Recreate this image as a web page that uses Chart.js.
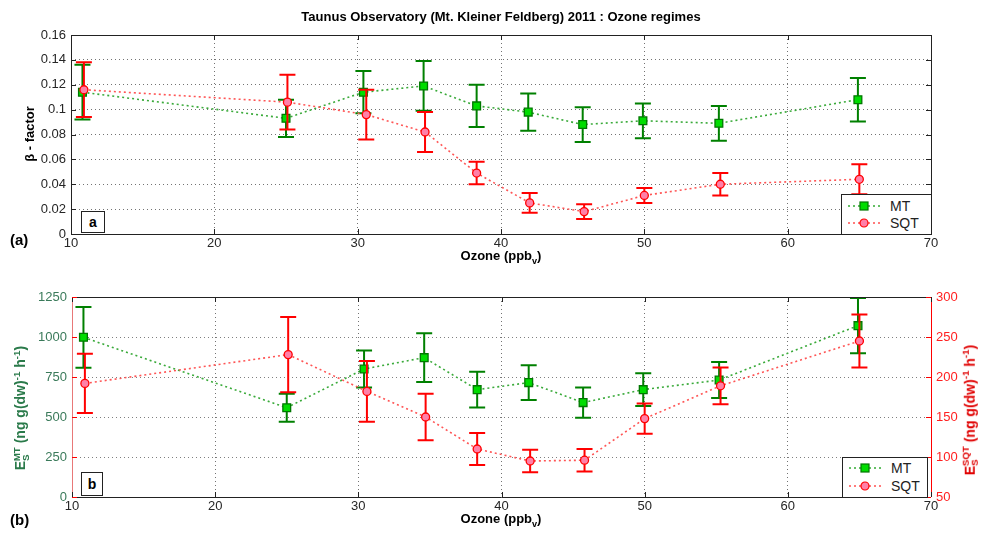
<!DOCTYPE html>
<html lang="en">
<head>
  <meta charset="UTF-8">
  <title>Taunus Observatory 2011 : Ozone regimes</title>
  <script src="https://cdn.jsdelivr.net/npm/chart.js"></script>
  <style>
    body { margin: 0; background: #fff; font-family: "Liberation Sans", Arial, sans-serif; }
    #wrap { position: relative; width: 984px; height: 534px; overflow: hidden; }
    canvas { position: absolute; left: 0; }
    .lbl { position: absolute; white-space: nowrap; color: #000; }
    .bold { font-weight: bold; }
    .rot { transform: translate(-50%, -50%) rotate(-90deg); }
    .legend { position: absolute; background: #fff; border: 1px solid #222; font-size: 14px; color: #222; }
    .legend .row { position: absolute; left: 6px; height: 14px; display: flex; align-items: center; }
    .legend .row span { margin-left: 8px; }
    .tag { position: absolute; border: 1px solid #222; background: #fff; font: bold 14px "Liberation Sans", Arial, sans-serif; text-align: center; }
    sub, sup { font-size: 70%; }
  </style>
</head>
<body>
<div id="wrap">
  <canvas id="betaChart" width="984" height="260" style="top:0"></canvas>
  <canvas id="esChart" width="984" height="274" style="top:260px"></canvas>

  <div class="lbl bold" style="left:71px;width:860px;top:9px;text-align:center;font-size:13px">Taunus Observatory (Mt. Kleiner Feldberg) 2011 : Ozone regimes</div>

  <div class="lbl bold" style="left:71px;width:860px;top:248px;text-align:center;font-size:13px">Ozone (ppb<sub>v</sub>)</div>
  <div class="lbl bold" style="left:71px;width:860px;top:511px;text-align:center;font-size:13px">Ozone (ppb<sub>v</sub>)</div>

  <div class="lbl bold" style="left:10px;top:231px;font-size:15px">(a)</div>
  <div class="lbl bold" style="left:10px;top:511px;font-size:15px">(b)</div>

  <div class="lbl bold rot" style="left:29px;top:134px;font-size:13px">&beta; - factor</div>
  <div class="lbl bold rot" style="left:21px;top:408px;font-size:14px;color:#2a7a4a">E<sub>S</sub><sup style="margin-left:-7px">MT</sup> (ng g(dw)<sup>-1</sup> h<sup>-1</sup>)</div>
  <div class="lbl bold rot" style="left:970px;top:410px;font-size:14px;color:#e00000">E<sub>S</sub><sup style="margin-left:-7px">SQT</sup> (ng g(dw)<sup>-1</sup> h<sup>-1</sup>)</div>

  <div class="tag" style="left:81px;top:211px;width:22px;height:20px;line-height:20px">a</div>
  <div class="tag" style="left:81px;top:472px;width:20px;height:22px;line-height:22px">b</div>

  <div class="legend" style="left:841px;top:194px;width:89px;height:39px">
    <div class="row" style="top:4px"><svg width="34" height="12"><line x1="0" y1="6" x2="34" y2="6" stroke="#33aa33" stroke-width="1.5" stroke-dasharray="2,3"/><rect x="12" y="2" width="8" height="8" fill="#00dd00" stroke="#007700" stroke-width="1.2"/></svg><span>MT</span></div>
    <div class="row" style="top:21px"><svg width="34" height="12"><line x1="0" y1="6" x2="34" y2="6" stroke="#ff5050" stroke-width="1.5" stroke-dasharray="2,3"/><circle cx="16" cy="6" r="4" fill="#ff80a8" stroke="#ff0000" stroke-width="1.2"/></svg><span>SQT</span></div>
  </div>
  <div class="legend" style="left:842px;top:457px;width:84px;height:39px">
    <div class="row" style="top:3px"><svg width="34" height="12"><line x1="0" y1="6" x2="34" y2="6" stroke="#33aa33" stroke-width="1.5" stroke-dasharray="2,3"/><rect x="12" y="2" width="8" height="8" fill="#00dd00" stroke="#007700" stroke-width="1.2"/></svg><span>MT</span></div>
    <div class="row" style="top:21px"><svg width="34" height="12"><line x1="0" y1="6" x2="34" y2="6" stroke="#ff5050" stroke-width="1.5" stroke-dasharray="2,3"/><circle cx="16" cy="6" r="4" fill="#ff80a8" stroke="#ff0000" stroke-width="1.2"/></svg><span>SQT</span></div>
  </div>
</div>

<script>
// ozone mixing ratio (ppbv) of each regime
const ozoneMT = [10.8, 25.0, 30.4, 34.6, 38.3, 41.9, 45.7, 49.9, 55.2, 64.9];
const ozoneSQT = [10.9, 25.1, 30.6, 34.7, 38.3, 42.0, 45.8, 50.0, 55.3, 65.0];

// (a) beta factor
const betaMT = [0.114, 0.093, 0.114, 0.119, 0.103, 0.098, 0.088, 0.091, 0.089, 0.108];
const betaMTErr = [0.022, 0.015, 0.017, 0.020, 0.017, 0.015, 0.014, 0.014, 0.014, 0.0175];
const betaSQT = [0.116, 0.106, 0.096, 0.082, 0.049, 0.025, 0.018, 0.031, 0.040, 0.044];
const betaSQTErr = [0.022, 0.022, 0.020, 0.016, 0.009, 0.008, 0.006, 0.006, 0.009, 0.012];

// (b) standard emission factors
const esMT = [998, 558, 800, 871, 671, 715, 590, 671, 731, 1071];
const esMTErr = [190, 87, 115, 152, 112, 108, 95, 102, 113, 172];
const esSQT = [192, 228, 182, 150, 110, 95, 96, 148, 189, 245];
const esSQTErr = [37, 47, 38, 29, 20, 14, 14, 19, 23, 33];

// tick values
const ozoneTicks = [10, 20, 30, 40, 50, 60, 70];
const betaTicks = [0, 0.02, 0.04, 0.06, 0.08, 0.1, 0.12, 0.14, 0.16];
const esMTTicks = [0, 250, 500, 750, 1000, 1250];
const esSQTTicks = [50, 100, 150, 200, 250, 300];

const GREEN_BAR = '#008000';
const RED_BAR = '#ff0000';

function toPoints(xs, ys) {
  return xs.map((x, i) => ({ x: x, y: ys[i] }));
}

// vertical error bars with caps, drawn just before each dataset
const errorBars = {
  id: 'errorBars',
  beforeDatasetDraw(chart, args) {
    const ds = chart.data.datasets[args.index];
    if (!ds.errors) return;
    const xs = chart.scales[args.meta.xAxisID];
    const ys = chart.scales[args.meta.yAxisID];
    const ctx = chart.ctx;
    ctx.save();
    ctx.strokeStyle = ds.errorColor;
    ctx.lineWidth = 2;
    ds.data.forEach((p, i) => {
      const x = xs.getPixelForValue(p.x);
      const top = ys.getPixelForValue(p.y + ds.errors[i]);
      const bot = ys.getPixelForValue(p.y - ds.errors[i]);
      ctx.beginPath();
      ctx.moveTo(x, top); ctx.lineTo(x, bot);
      ctx.moveTo(x - 8, top); ctx.lineTo(x + 8, top);
      ctx.moveTo(x - 8, bot); ctx.lineTo(x + 8, bot);
      ctx.stroke();
    });
    ctx.restore();
  }
};

// matlab style box with inward ticks
const axesBox = {
  id: 'axesBox',
  afterDraw(chart) {
    const a = chart.chartArea;
    const ctx = chart.ctx;
    const o = chart.options.plugins.axesBox;
    ctx.save();
    ctx.lineWidth = 1;
    const side = (color, x1, y1, x2, y2) => {
      ctx.strokeStyle = color;
      ctx.beginPath(); ctx.moveTo(x1, y1); ctx.lineTo(x2, y2); ctx.stroke();
    };
    side('#222', a.left, a.top + 0.5, a.right, a.top + 0.5);
    side('#222', a.left, a.bottom + 0.5, a.right, a.bottom + 0.5);
    side(o.leftColor, a.left + 0.5, a.top, a.left + 0.5, a.bottom);
    side(o.rightColor, a.right + 0.5, a.top, a.right + 0.5, a.bottom);

    const xs = chart.scales.x;
    ctx.strokeStyle = '#222';
    ozoneTicks.forEach(v => {
      const x = Math.round(xs.getPixelForValue(v)) + 0.5;
      ctx.beginPath();
      ctx.moveTo(x, a.bottom); ctx.lineTo(x, a.bottom - 5);
      ctx.moveTo(x, a.top); ctx.lineTo(x, a.top + 5);
      ctx.stroke();
    });
    o.yTicks.forEach(t => {
      const sc = chart.scales[t.axis];
      ctx.strokeStyle = t.color;
      t.values.forEach(v => {
        const y = Math.round(sc.getPixelForValue(v)) + 0.5;
        ctx.beginPath();
        if (t.left) { ctx.moveTo(a.left, y); ctx.lineTo(a.left + 5, y); }
        if (t.right) { ctx.moveTo(a.right, y); ctx.lineTo(a.right - 5, y); }
        ctx.stroke();
      });
    });
    ctx.restore();
  }
};

const tickFont = { family: '"Liberation Sans", Arial, sans-serif', size: 13 };

function ozoneAxis() {
  return {
    type: 'linear', min: 10, max: 70,
    afterBuildTicks: s => { s.ticks = ozoneTicks.map(v => ({ value: v })); },
    ticks: { font: tickFont, color: '#262626', padding: 2, maxRotation: 0, callback: v => String(v) },
    grid: { color: 'rgba(0,0,0,0.55)', drawTicks: false, tickLength: 0 },
    border: { display: false, dash: [1, 3] }
  };
}

function mtDataset(xs, ys, errs, axis) {
  return {
    label: 'MT', data: toPoints(xs, ys), errors: errs, errorColor: GREEN_BAR,
    yAxisID: axis, order: 2,
    borderColor: '#3aaa3a', borderWidth: 1.6, borderDash: [2, 3],
    pointStyle: 'rect', pointRadius: 5.5, pointBackgroundColor: '#00dd00',
    pointBorderColor: '#007700', pointBorderWidth: 1.3, tension: 0
  };
}

function sqtDataset(xs, ys, errs, axis) {
  return {
    label: 'SQT', data: toPoints(xs, ys), errors: errs, errorColor: RED_BAR,
    yAxisID: axis, order: 1,
    borderColor: '#ff5555', borderWidth: 1.6, borderDash: [2, 3],
    pointStyle: 'circle', pointRadius: 4, pointBackgroundColor: '#ff80a8',
    pointBorderColor: '#ff0000', pointBorderWidth: 1.3, tension: 0
  };
}

new Chart(document.getElementById('betaChart'), {
  type: 'line',
  data: {
    datasets: [
      mtDataset(ozoneMT, betaMT, betaMTErr, 'y'),
      sqtDataset(ozoneSQT, betaSQT, betaSQTErr, 'y')
    ]
  },
  options: {
    responsive: false, animation: false, devicePixelRatio: 1,
    layout: { padding: { top: 35, right: 53, bottom: 0, left: 0 } },
    plugins: {
      legend: { display: false }, tooltip: { enabled: false },
      axesBox: { leftColor: '#222', rightColor: '#222',
        yTicks: [{ axis: 'y', values: betaTicks, color: '#222', left: true, right: true }] }
    },
    scales: {
      x: Object.assign(ozoneAxis(), { afterFit: s => { s.height = 26; } }),
      y: {
        type: 'linear', min: 0, max: 0.16,
        afterBuildTicks: s => { s.ticks = betaTicks.map(v => ({ value: v })); },
        afterFit: s => { s.width = 71; },
        ticks: { font: tickFont, color: '#262626', padding: 5, callback: v => String(v) },
        grid: { color: 'rgba(0,0,0,0.55)', drawTicks: false, tickLength: 0 },
        border: { display: false, dash: [1, 3] }
      }
    }
  },
  plugins: [errorBars, axesBox]
});

new Chart(document.getElementById('esChart'), {
  type: 'line',
  data: {
    datasets: [
      mtDataset(ozoneMT, esMT, esMTErr, 'yMT'),
      sqtDataset(ozoneSQT, esSQT, esSQTErr, 'ySQT')
    ]
  },
  options: {
    responsive: false, animation: false, devicePixelRatio: 1,
    layout: { padding: { top: 37, right: 0, bottom: 0, left: 0 } },
    plugins: {
      legend: { display: false }, tooltip: { enabled: false },
      axesBox: { leftColor: '#e87878', rightColor: '#ff0000',
        yTicks: [
          { axis: 'yMT', values: esMTTicks, color: '#2a7a4a', left: true, right: false },
          { axis: 'ySQT', values: esSQTTicks, color: '#ff0000', left: true, right: true }
        ] }
    },
    scales: {
      x: Object.assign(ozoneAxis(), { afterFit: s => { s.height = 37; } }),
      yMT: {
        type: 'linear', position: 'left', min: 0, max: 1250,
        afterBuildTicks: s => { s.ticks = esMTTicks.map(v => ({ value: v })); },
        afterFit: s => { s.width = 72; },
        ticks: { font: tickFont, color: '#3a7a5a', padding: 5, callback: v => String(v) },
        grid: { color: 'rgba(0,0,0,0.5)', drawTicks: false, tickLength: 0 },
        border: { display: false, dash: [1, 3] }
      },
      ySQT: {
        type: 'linear', position: 'right', min: 50, max: 300,
        afterBuildTicks: s => { s.ticks = esSQTTicks.map(v => ({ value: v })); },
        afterFit: s => { s.width = 53; },
        ticks: { font: tickFont, color: '#ff2020', padding: 5, callback: v => String(v) },
        grid: { display: false, drawTicks: false },
        border: { display: false }
      }
    }
  },
  plugins: [errorBars, axesBox]
});
</script>
</body>
</html>
